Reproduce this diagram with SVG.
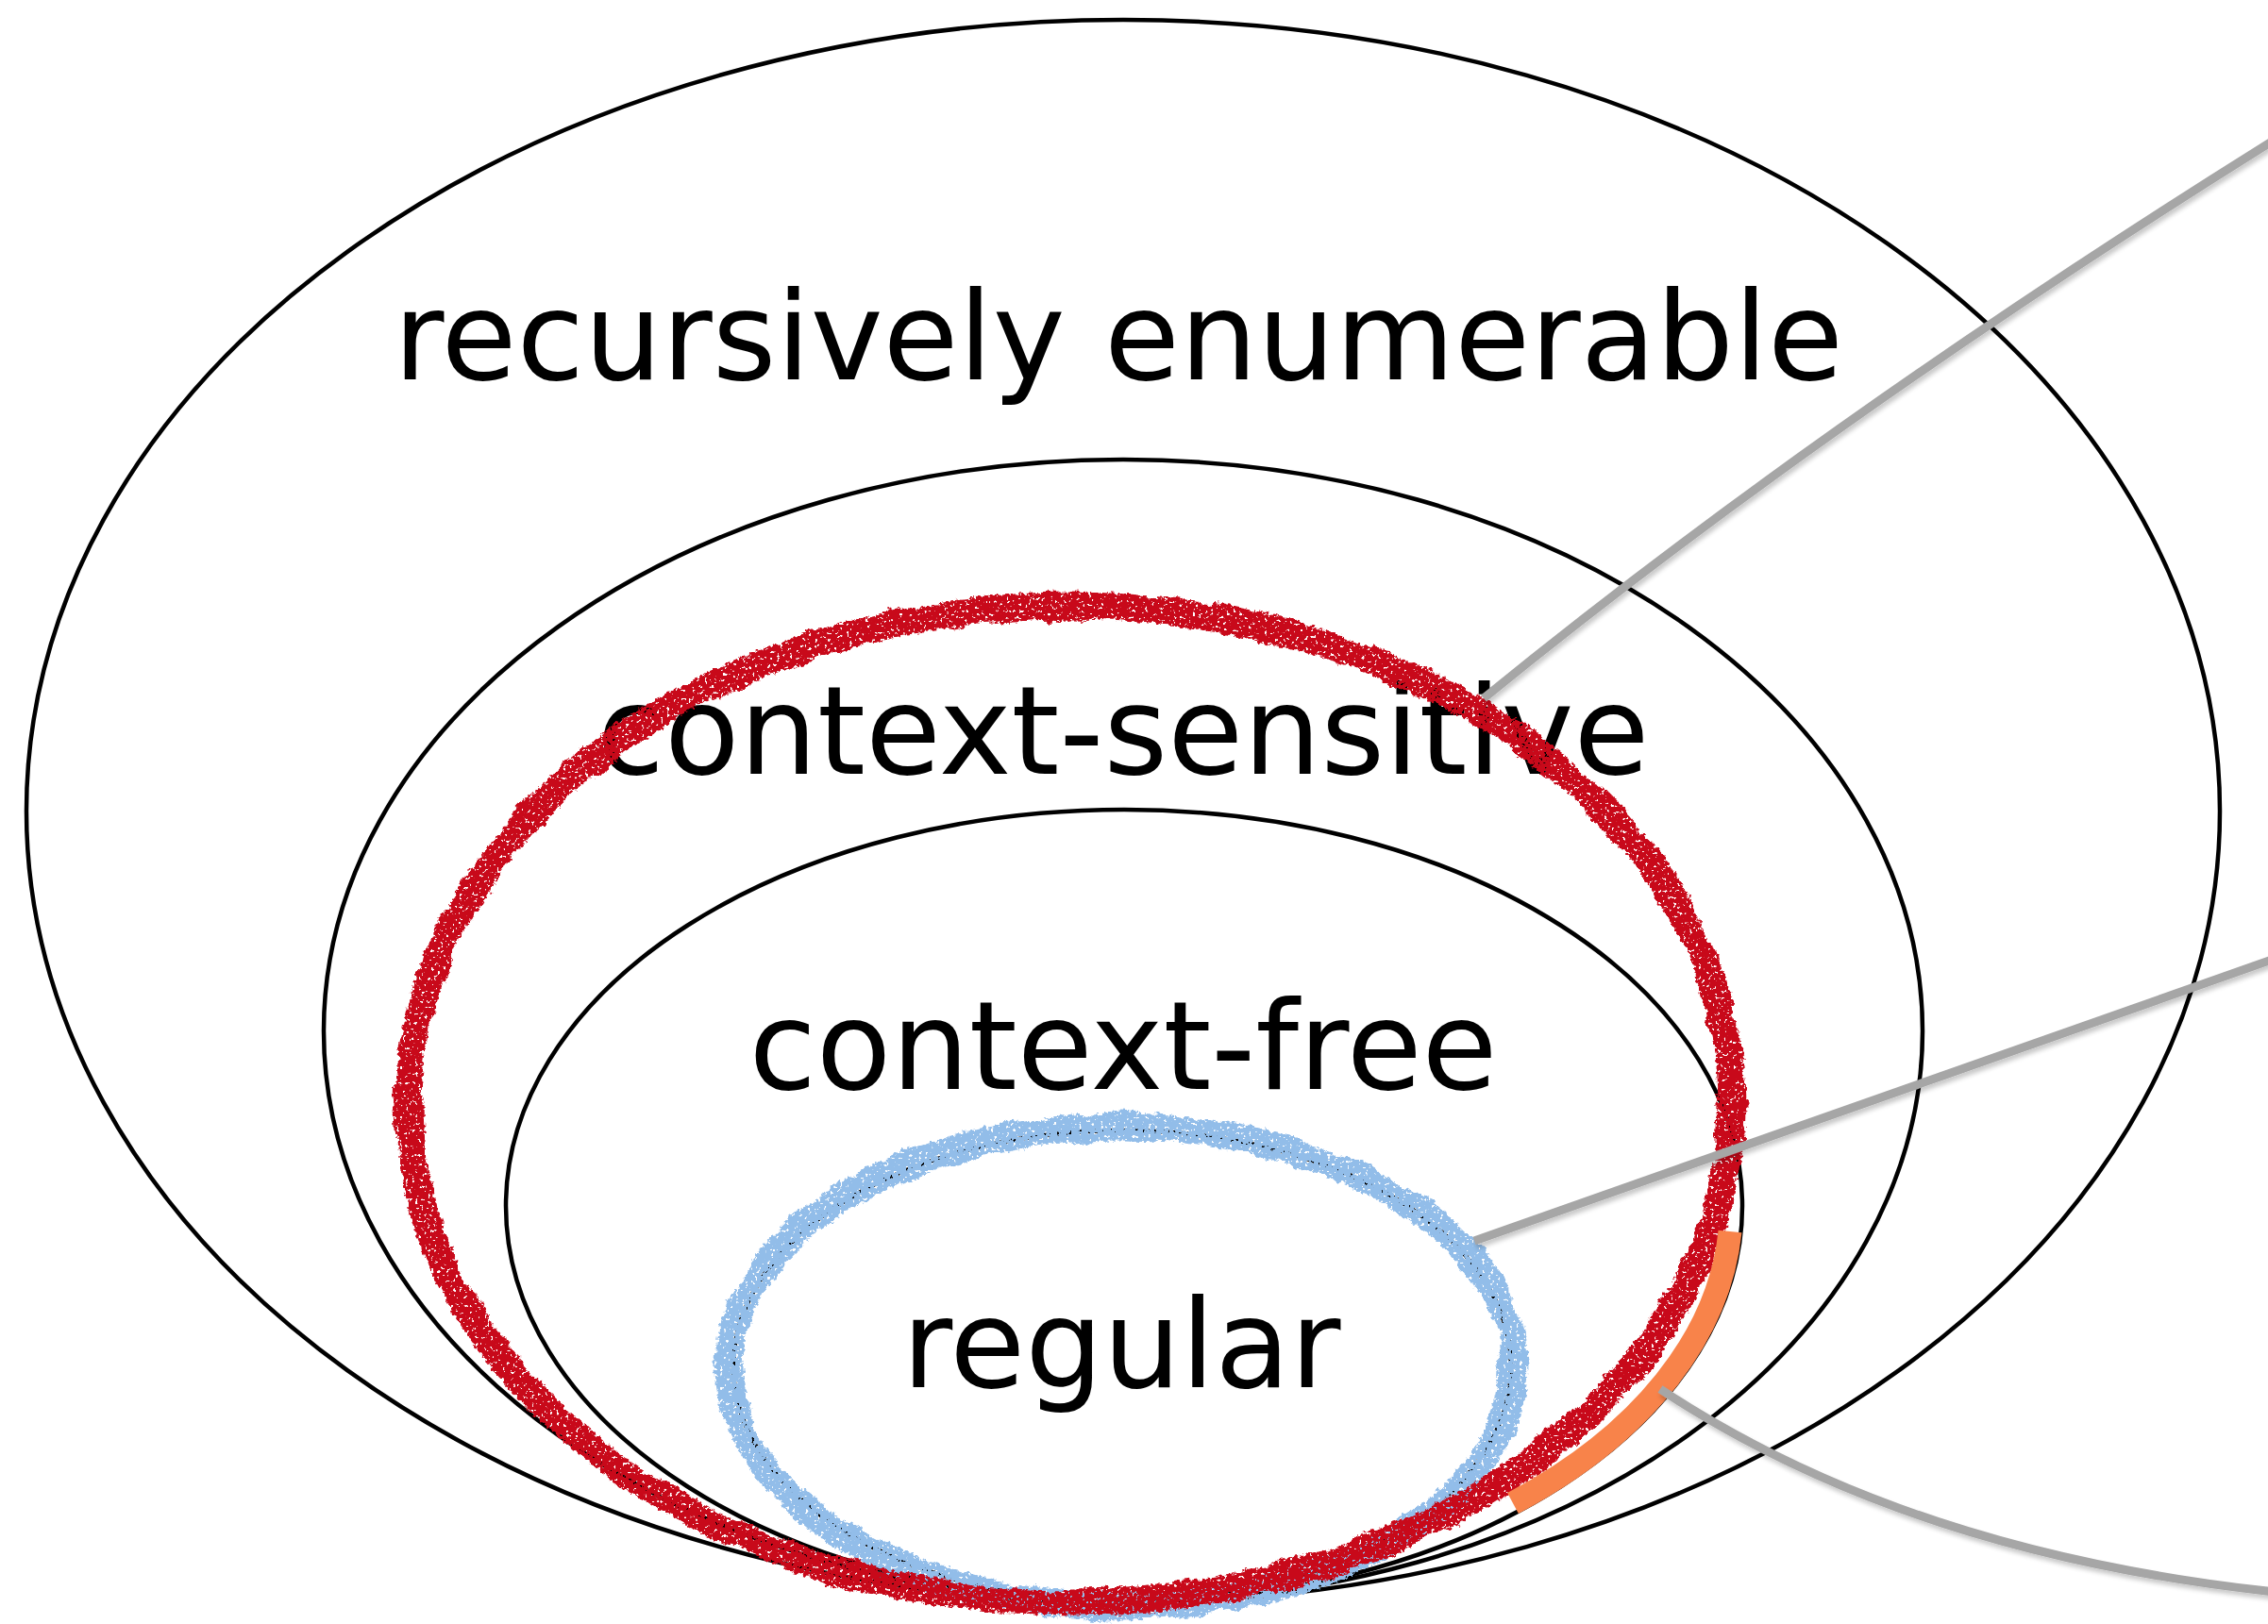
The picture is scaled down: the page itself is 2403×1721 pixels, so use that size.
<svg xmlns="http://www.w3.org/2000/svg" width="2403" height="1721" viewBox="0 0 2403 1721">
  <style>
    .ring { fill: none; stroke: #000; stroke-width: 4.5; }
    .label { font-family: "DejaVu Sans", "Liberation Sans", sans-serif; font-size: 130px; fill: #000; text-anchor: middle; }
    .chalk-red { fill: none; stroke: #c8091a; stroke-width: 29; }
    .chalk-blue { fill: none; stroke: #92bde9; stroke-width: 29; }
    .mark { fill: none; stroke: #f8834a; stroke-width: 25; stroke-linecap: butt; }
    .callout { fill: none; stroke: #a6a6a6; stroke-width: 9; stroke-linecap: butt; }
  </style>
  <defs>
    <!-- crayon-like stroke: gentle wobble, jagged edges and a few grain holes -->
    <filter id="chalk" filterUnits="userSpaceOnUse" x="0" y="0" width="2403" height="1721" color-interpolation-filters="sRGB">
      <feTurbulence type="fractalNoise" baseFrequency="0.03" numOctaves="2" seed="2" result="warp"/>
      <feDisplacementMap in="SourceGraphic" in2="warp" scale="12" xChannelSelector="R" yChannelSelector="G" result="wob"/>
      <feTurbulence type="fractalNoise" baseFrequency="0.2" numOctaves="2" seed="9" result="jag"/>
      <feDisplacementMap in="wob" in2="jag" scale="7" xChannelSelector="R" yChannelSelector="G" result="rough"/>
      <feTurbulence type="fractalNoise" baseFrequency="0.3" numOctaves="2" seed="5" result="grain"/>
      <feColorMatrix in="grain" type="matrix" values="0 0 0 0 0  0 0 0 0 0  0 0 0 0 0  -16 0 0 0 11.3" result="mask"/>
      <feComposite in="rough" in2="mask" operator="in"/>
    </filter>
    <filter id="chalk2" filterUnits="userSpaceOnUse" x="0" y="0" width="2403" height="1721" color-interpolation-filters="sRGB">
      <feTurbulence type="fractalNoise" baseFrequency="0.03" numOctaves="2" seed="11" result="warp"/>
      <feDisplacementMap in="SourceGraphic" in2="warp" scale="12" xChannelSelector="R" yChannelSelector="G" result="wob"/>
      <feTurbulence type="fractalNoise" baseFrequency="0.2" numOctaves="2" seed="4" result="jag"/>
      <feDisplacementMap in="wob" in2="jag" scale="7" xChannelSelector="R" yChannelSelector="G" result="rough"/>
      <feTurbulence type="fractalNoise" baseFrequency="0.3" numOctaves="2" seed="13" result="grain"/>
      <feColorMatrix in="grain" type="matrix" values="0 0 0 0 0  0 0 0 0 0  0 0 0 0 0  -16 0 0 0 11.3" result="mask"/>
      <feComposite in="rough" in2="mask" operator="in"/>
    </filter>
    <filter id="soft-shadow" filterUnits="userSpaceOnUse" x="0" y="0" width="2403" height="1721">
      <feGaussianBlur in="SourceAlpha" stdDeviation="2.5"/>
      <feOffset dx="2" dy="4" result="blur"/>
      <feComponentTransfer><feFuncA type="linear" slope="0.22"/></feComponentTransfer>
      <feMerge><feMergeNode/><feMergeNode in="SourceGraphic"/></feMerge>
    </filter>
  </defs>

  <rect width="2403" height="1721" fill="#fff"/>

  <g id="recursively-enumerable">
    <ellipse class="ring" cx="1190" cy="859.5" rx="1162" ry="838.5"/>
    <text class="label" x="1185" y="402">recursively enumerable</text>
  </g>
  <g id="context-sensitive">
    <ellipse class="ring" cx="1190" cy="1092.5" rx="847" ry="605.5"/>
    <text class="label" x="1190" y="820">context-sensitive</text>
  </g>
  <g id="context-free">
    <ellipse class="ring" cx="1191" cy="1278" rx="655" ry="420"/>
    <text class="label" x="1190" y="1154">context-free</text>
  </g>
  <g id="regular">
    <ellipse class="ring" cx="1189" cy="1448" rx="412" ry="250"/>
    <text class="label" x="1188" y="1470">regular</text>
  </g>

  <!-- hand-drawn highlight rings -->
  <g id="regular-highlight">
    <ellipse class="chalk-blue" cx="1188" cy="1448" rx="416" ry="254" filter="url(#chalk2)"/>
  </g>
  <g id="context-sensitive-highlight">
    <ellipse class="chalk-red" cx="1134" cy="1170" rx="701" ry="528" filter="url(#chalk)"/>
  </g>
  <g id="boundary-mark">
    <path class="mark" d="M 1833 1305 A 643 409 0 0 1 1603 1593"/>
  </g>

  <g id="connectors" filter="url(#soft-shadow)">
    <path class="callout" d="M 1572 740 Q 1930 448 2410 148"/>
    <path class="callout" d="M 1562 1315 L 2410 1016"/>
    <path class="callout" d="M 1759 1472 Q 2020 1645 2410 1687"/>
  </g>
</svg>
